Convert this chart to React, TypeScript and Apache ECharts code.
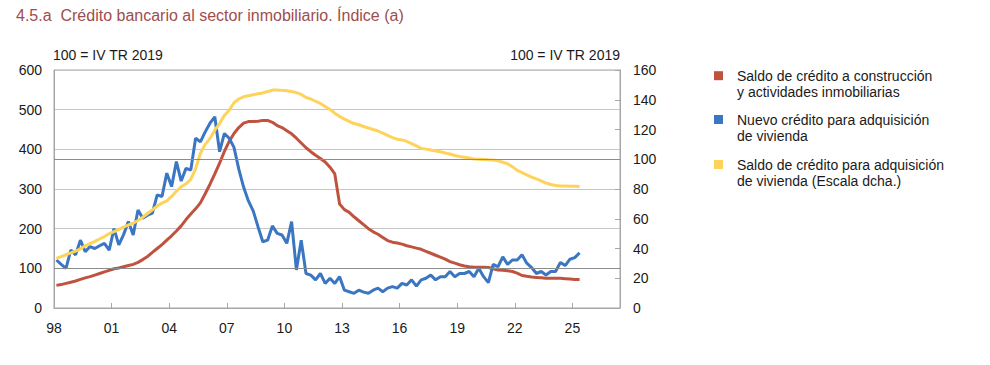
import React, { useEffect, useRef } from "react";
import * as echarts from "echarts";

const FONT = "'Liberation Sans', Arial, Helvetica, sans-serif";

const title = "4.5.a  Crédito bancario al sector inmobiliario. Índice (a)";
const leftUnit = "100 = IV TR 2019";
const rightUnit = "100 = IV TR 2019";

const startYear = 1998; // first quarter: 1998 T1 (quarterly data up to 2025 T2)

const seriesNames = [
  "Saldo de crédito a construcción y actividades inmobiliarias",
  "Nuevo crédito para adquisición de vivienda",
  "Saldo de crédito para adquisición de vivienda (Escala dcha.)",
];
const legendLabels = [
  "Saldo de crédito a construcción\ny actividades inmobiliarias",
  "Nuevo crédito para adquisición\nde vivienda",
  "Saldo de crédito para adquisición\nde vivienda (Escala dcha.)",
];
const colors = ["#c0533f", "#3a76c2", "#fdd35b"];

// Saldo de crédito a construcción y actividades inmobiliarias (left scale)
const construccion = [
  57, 59, 62, 65, 68, 72, 76, 79, 83, 87,
  91, 95, 99, 101, 104, 107, 110, 115, 122, 130,
  140, 150, 160, 171, 182, 194, 207, 223, 237, 250,
  265, 288, 312, 338, 365, 395, 420, 440, 455, 466,
  470, 470, 471, 473, 473, 468, 460, 455, 447, 439,
  428, 416, 404, 394, 385, 377, 368, 355, 338, 262,
  248, 241, 230, 220, 210, 200, 192, 186, 178, 170,
  166, 164, 161, 157, 154, 151, 148, 143, 138, 133,
  128, 123, 117, 113, 109, 106, 104, 103, 103, 103,
  102, 99, 96, 95, 94, 92, 88, 82, 80, 78,
  77, 76, 75, 75, 75, 75, 74, 73, 72, 72,
];

// Nuevo crédito para adquisición de vivienda (left scale)
const nuevoCredito = [
  121, 110, 100, 146, 134, 171, 142, 155, 150, 157,
  163, 146, 200, 159, 185, 218, 184, 247, 226, 234,
  239, 285, 281, 340, 306, 369, 320, 352, 348, 428,
  419, 444, 466, 482, 394, 440, 428, 405, 350, 305,
  270, 245, 205, 167, 171, 207, 188, 184, 163, 218,
  96, 171, 87, 83, 71, 87, 62, 75, 62, 79,
  45, 41, 37, 45, 40, 37, 45, 50, 41, 50,
  54, 50, 62, 58, 71, 55, 71, 75, 83, 71,
  79, 79, 92, 79, 87, 87, 92, 79, 100, 79,
  64, 110, 104, 129, 110, 121, 121, 134, 113, 102,
  87, 92, 83, 92, 92, 115, 107, 123, 127, 139,
];

// Saldo de crédito para adquisición de vivienda (right scale)
const saldoVivienda = [
  33.4, 34.6, 35.8, 37.0, 38.3, 39.8, 41.8, 43.3, 44.8, 46.4,
  48.0, 50.0, 51.4, 52.8, 54.3, 55.8, 57.0, 58.8, 61.0, 63.5,
  66.0, 68.6, 70.5, 72.0, 75.0, 78.5, 81.5, 83.5, 86.5, 93.5,
  104, 110, 114, 119.5, 124, 129.5, 133, 138, 140.5, 142,
  142.7, 143.4, 144, 144.6, 145.5, 146.5, 146.6, 146.3, 146, 145.6,
  144.8, 143.6, 141.5, 140.5, 139, 137.5, 135.5, 133.5, 131, 128.8,
  127, 125.5, 124, 123.2, 122, 121, 120, 119, 117.5, 116,
  114.5, 113.5, 113, 112, 110.5, 109, 107.3, 106.8, 106.2, 105.5,
  105, 104.2, 103.5, 102.5, 101.8, 101.3, 100.8, 100.2, 100, 99.8,
  99.6, 99.5, 99, 98, 97, 95, 92.5, 91, 89.5, 88,
  86.8, 85.5, 84, 83, 82.3, 82, 82, 81.8, 81.8, 81.6,
];

// x position of each quarter (mid-quarter, in years)
const quarterPos = construccion.map((_, i) => startYear + i / 4 + 0.125);
const pairs = (vals: number[]) => vals.map((v, i) => [quarterPos[i], v]);

const axisGray = "#a6a6a6";
const gridGray = "#c6c6c6";
const refGray = "#8c8c8c";
const textColor = "#1a1a1a";

const legendCenters = [75.7, 119.5, 164.5];

export default function App() {
  const ref = useRef<HTMLDivElement>(null);

  useEffect(() => {
    document.body.style.margin = "0";
    if (!ref.current) return;
    const chart = echarts.init(ref.current, undefined, { renderer: "svg" });

    const legendGraphics: any[] = [];
    legendLabels.forEach((lbl, i) => {
      legendGraphics.push({
        type: "rect",
        shape: { x: 714, y: legendCenters[i] - 4.5, width: 9, height: 9 },
        style: { fill: colors[i] },
      });
      legendGraphics.push({
        type: "text",
        x: 737,
        y: legendCenters[i] - 8,
        style: {
          text: lbl,
          fontSize: 14,
          lineHeight: 16,
          fontFamily: FONT,
          fill: textColor,
          verticalAlign: "top",
        },
      });
    });

    const option: any = {
      animation: false,
      textStyle: { fontFamily: FONT },
      grid: {
        left: 54,
        right: 370,
        top: 70,
        bottom: 57,
        show: true,
        borderColor: axisGray,
        borderWidth: 1,
      },
      xAxis: {
        type: "value",
        min: 1998,
        max: 2027.48,
        interval: 3,
        axisLine: { show: true, lineStyle: { color: axisGray } },
        axisTick: { show: true, inside: true, length: 5, lineStyle: { color: axisGray } },
        axisLabel: {
          color: textColor,
          fontSize: 14,
          margin: 13,
          fontFamily: FONT,
          showMaxLabel: false,
          formatter: (v: number) => {
            const r = Math.round(v);
            if (Math.abs(v - r) > 1e-6) return "";
            return String(r % 100).padStart(2, "0");
          },
        },
        splitLine: { show: false },
      },
      yAxis: [
        {
          type: "value",
          min: 0,
          max: 600,
          interval: 100,
          position: "left",
          axisLine: { show: true, lineStyle: { color: axisGray } },
          axisTick: { show: false },
          axisLabel: { color: textColor, fontSize: 14, margin: 12, fontFamily: FONT },
          splitLine: { show: true, lineStyle: { color: gridGray, width: 1 } },
        },
        {
          type: "value",
          min: 0,
          max: 160,
          interval: 20,
          position: "right",
          axisLine: { show: true, lineStyle: { color: axisGray } },
          axisTick: { show: true, inside: true, length: 5, lineStyle: { color: axisGray } },
          axisLabel: { color: textColor, fontSize: 14, margin: 13, fontFamily: FONT },
          splitLine: { show: false },
        },
      ],
      graphic: [
        {
          type: "text",
          x: 16,
          y: 15,
          style: {
            text: title,
            fontSize: 16,
            fontFamily: FONT,
            fill: "#9e4d4d",
            verticalAlign: "middle",
          },
        },
        {
          type: "text",
          x: 53,
          y: 55,
          style: { text: leftUnit, fontSize: 14, fontFamily: FONT, fill: textColor, verticalAlign: "middle" },
        },
        {
          type: "text",
          x: 620,
          y: 55,
          style: {
            text: rightUnit,
            fontSize: 14,
            fontFamily: FONT,
            fill: textColor,
            align: "right",
            verticalAlign: "middle",
          },
        },
        ...legendGraphics,
      ],
      series: [
        {
          name: seriesNames[0],
          type: "line",
          yAxisIndex: 0,
          data: pairs(construccion),
          showSymbol: false,
          lineStyle: { color: colors[0], width: 3 },
          itemStyle: { color: colors[0] },
          markLine: {
            silent: true,
            symbol: "none",
            label: { show: false },
            lineStyle: { color: refGray, type: "solid", width: 1 },
            data: [{ yAxis: 100 }],
          },
        },
        {
          name: seriesNames[1],
          type: "line",
          yAxisIndex: 0,
          data: pairs(nuevoCredito),
          showSymbol: false,
          lineStyle: { color: colors[1], width: 3 },
          itemStyle: { color: colors[1] },
        },
        {
          name: seriesNames[2],
          type: "line",
          yAxisIndex: 1,
          data: pairs(saldoVivienda),
          showSymbol: false,
          lineStyle: { color: colors[2], width: 3 },
          itemStyle: { color: colors[2] },
          markLine: {
            silent: true,
            symbol: "none",
            label: { show: false },
            lineStyle: { color: refGray, type: "solid", width: 1 },
            data: [{ yAxis: 100 }],
          },
        },
      ],
    };

    chart.setOption(option);
    return () => chart.dispose();
  }, []);

  return <div ref={ref} style={{ width: 990, height: 365 }} />;
}
